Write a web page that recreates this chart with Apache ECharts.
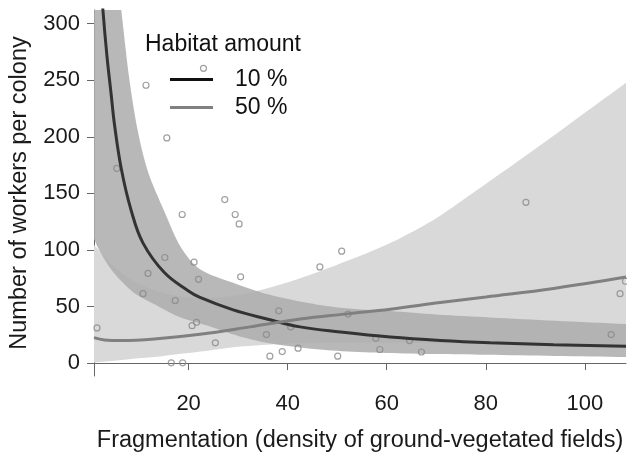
<!DOCTYPE html>
<html>
<head>
<meta charset="utf-8">
<script src="https://cdn.jsdelivr.net/npm/echarts@6/dist/echarts.min.js"></script>
<style>
  html, body { margin: 0; padding: 0; background: #fff; }
  #chart { width: 627px; height: 458px; }
</style>
</head>
<body>
<div id="chart"></div>
<script>
// observed colonies
const pointX = [23.0, 11.4, 15.6, 5.5, 27.3, 18.7, 29.4, 30.2, 15.2, 21.1, 11.8, 22.0, 30.5, 46.5, 10.8, 17.3, 38.2, 21.6, 20.7, 1.5, 40.6, 35.7, 25.4, 42.1, 38.9, 36.4, 16.5, 18.8, 88.1, 50.9, 52.2, 108.2, 107.1, 105.3, 57.8, 64.6, 58.6, 67.0, 50.1];
const pointY = [260.5, 245.5, 199, 172, 144.5, 131.3, 131.3, 123, 93.3, 89.2, 79.2, 74, 76.2, 85, 61.3, 55.3, 46.2, 36, 33.1, 31.1, 32, 25.2, 17.9, 13.2, 10.2, 6.1, 0.2, 0.2, 142.1, 98.9, 43.3, 72.3, 61.3, 25.2, 21.9, 19.9, 12, 9.8, 6.1];

// fitted curve, 10 % habitat
const fit10X = [2.2, 2.7, 3.5, 4.4, 5.0, 6.4, 8.4, 10.8, 15.1, 19.9, 22.3, 29, 35.8, 42.5, 50.6, 60.7, 70.8, 80.9, 93.7, 108.3];
const fit10Y = [345, 312, 272, 236, 212, 172, 135, 106, 80, 64, 58, 47, 39, 32, 27.5, 23, 20, 18, 16.3, 14.9];

// fitted curve, 50 % habitat
const fit50X = [0.9, 3, 6.4, 13.1, 22.3, 32.4, 42.5, 52, 60.7, 70.8, 80, 93.7, 108.3];
const fit50Y = [22.5, 20.5, 19.9, 21.3, 25.5, 32, 38.9, 43.5, 47.6, 53.5, 58.5, 66, 76];

// confidence band, 10 %
const up10X = [-3, 0.5, 3, 5.5, 6.4, 8, 9.75, 11.8, 15.1, 18.5, 22.3, 29, 35.8, 43, 50.6, 60.7, 70, 80.9, 94, 108.4, 115];
const up10Y = [460, 420, 390, 345, 312, 252, 205, 169, 134, 102, 83, 71, 61, 54, 49, 46, 43, 40.4, 37.5, 34.5, 33];
const lo10X = [-3, 0.5, 1.7, 4, 6.4, 9, 13.1, 18, 23.9, 30, 35.8, 42, 51, 60, 70, 80, 94, 108.4, 115];
const lo10Y = [120, 112, 102, 85, 72.5, 62, 52, 41, 33, 24, 18, 14, 10.5, 9, 8, 7.3, 6.2, 5.3, 5];

// confidence band, 50 %
const up50X = [-3, 0.5, 5, 10, 15, 20, 25, 30, 35, 42.5, 50, 57, 63, 70, 76, 89.6, 108.4, 115];
const up50Y = [115, 106, 85, 70, 62, 58, 58, 60, 65, 75, 87, 99, 111, 128, 146, 188, 248, 269];
const lo50X = [-3, 0.5, 1.9, 8, 13.1, 18, 23.9, 29, 35, 42, 50, 60, 80, 108.4, 115];
const lo50Y = [0, 0.5, 1, 3.5, 5.3, 8, 11, 14, 16, 17.5, 18, 18, 17, 15, 14.5];

const yTicks = [0, 50, 100, 150, 200, 250, 300];
const xTicks = [20, 40, 60, 80, 100];

const FONT = 'Liberation Sans, Arial, sans-serif';

const zip = (xs, ys) => xs.map((x, i) => [x, ys[i]]);

// filled band between two edges, drawn through the grid's own scales
function band(name, upX, upY, loX, loY, fill, z) {
  return {
    name,
    type: 'custom',
    silent: true,
    clip: true,
    z,
    data: [0],
    renderItem: (params, api) => {
      const pts = upX.map((x, i) => api.coord([x, upY[i]]));
      for (let i = loX.length - 1; i >= 0; i--) {
        pts.push(api.coord([loX[i], loY[i]]));
      }
      return {
        type: 'polygon',
        shape: { points: pts, smooth: 0.3 },
        style: { fill }
      };
    }
  };
}

const chart = echarts.init(document.getElementById('chart'));

chart.setOption({
  animation: false,
  backgroundColor: '#fff',
  textStyle: { fontFamily: FONT },
  title: {
    text: 'Habitat amount',
    left: 140,
    top: 28,
    textStyle: { fontFamily: FONT, fontSize: 23, fontWeight: 'normal', color: '#111' }
  },
  legend: {
    orient: 'vertical',
    left: 165,
    top: 63,
    itemWidth: 43,
    itemHeight: 3,
    itemGap: 5,
    icon: 'rect',
    textStyle: { fontFamily: FONT, fontSize: 23, color: '#111', padding: [0, 0, 0, 17] },
    data: [
      { name: '10 %', itemStyle: { color: '#111' } },
      { name: '50 %', itemStyle: { color: '#808080' } }
    ]
  },
  grid: { left: 94, right: 1, top: 10, bottom: 79 },
  xAxis: {
    type: 'value',
    min: 0.9,
    max: 108.3,
    name: 'Fragmentation (density of ground-vegetated fields)',
    nameLocation: 'middle',
    nameGap: 53,
    nameTextStyle: { fontFamily: FONT, fontSize: 23.5, color: '#1a1a1a' },
    axisLine: { lineStyle: { color: '#666', width: 1 } },
    axisTick: { length: 7, lineStyle: { color: '#666' }, customValues: xTicks },
    axisLabel: { customValues: xTicks, margin: 17, fontSize: 22, color: '#1a1a1a', fontFamily: FONT },
    splitLine: { show: false }
  },
  yAxis: {
    type: 'value',
    min: -11.4,
    max: 312,
    name: 'Number of workers per colony',
    nameLocation: 'middle',
    nameGap: 62,
    nameTextStyle: { fontFamily: FONT, fontSize: 23.5, color: '#1a1a1a' },
    axisLine: { show: true, lineStyle: { color: '#666', width: 1 } },
    axisTick: { show: true, length: 7, lineStyle: { color: '#666' }, customValues: yTicks },
    axisLabel: { customValues: yTicks, margin: 14, fontSize: 22, color: '#1a1a1a', fontFamily: FONT },
    splitLine: { show: false }
  },
  series: [
    band('band50', up50X, up50Y, lo50X, lo50Y, '#d9d9d9', 1),
    band('band10', up10X, up10Y, lo10X, lo10Y, 'rgba(174,174,174,0.87)', 2),
    {
      name: 'points',
      type: 'scatter',
      z: 3,
      symbol: 'circle',
      symbolSize: 6,
      silent: true,
      itemStyle: { color: 'rgba(0,0,0,0)', borderColor: '#888', borderWidth: 1.2 },
      data: zip(pointX, pointY)
    },
    {
      name: '10 %',
      type: 'line',
      z: 4,
      smooth: 0.4,
      showSymbol: false,
      clip: true,
      lineStyle: { color: '#333', width: 3 },
      itemStyle: { color: '#111' },
      data: zip(fit10X, fit10Y)
    },
    {
      name: '50 %',
      type: 'line',
      z: 4,
      smooth: 0.4,
      showSymbol: false,
      clip: true,
      lineStyle: { color: '#808080', width: 3 },
      itemStyle: { color: '#808080' },
      data: zip(fit50X, fit50Y)
    }
  ]
});
</script>
</body>
</html>
